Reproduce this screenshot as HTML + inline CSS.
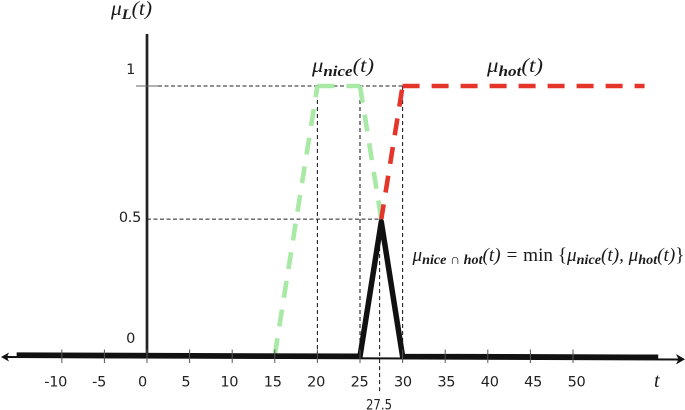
<!DOCTYPE html>
<html>
<head>
<meta charset="utf-8">
<style>
html,body{margin:0;padding:0;background:#fff;width:685px;height:410px;overflow:hidden}
svg{display:block}
.num{font-family:"DejaVu Sans","Liberation Sans",sans-serif;font-size:14.5px;letter-spacing:-0.3px;fill:#222}
.math{font-family:"Liberation Serif",serif;font-style:italic;font-size:20px;fill:#1a1a1a}
.sub{font-size:15px;font-weight:bold}
.up{font-style:normal}
</style>
</head>
<body>
<svg id="chart" width="685" height="410" viewBox="0 0 685 410" xmlns="http://www.w3.org/2000/svg">
<text class="math" x="111" y="15" textLength="41" lengthAdjust="spacingAndGlyphs">μ<tspan class="sub" dy="4">L</tspan><tspan dy="-4">(t)</tspan></text>
<text class="math" x="312" y="72" textLength="62" lengthAdjust="spacingAndGlyphs">μ<tspan class="sub" dy="4">nice</tspan><tspan dy="-4">(t)</tspan></text>
<text class="math" x="487" y="72" textLength="56" lengthAdjust="spacingAndGlyphs">μ<tspan class="sub" dy="4">hot</tspan><tspan dy="-4">(t)</tspan></text>
<text class="math" x="412.5" y="261" style="font-size:19px" textLength="272" lengthAdjust="spacingAndGlyphs">μ<tspan class="sub" style="font-size:14px" dy="3">nice ∩ hot</tspan><tspan dy="-3">(t) = </tspan><tspan class="up">min </tspan><tspan class="up">{</tspan>μ<tspan class="sub" style="font-size:14px" dy="3">nice</tspan><tspan dy="-3">(t), </tspan>μ<tspan class="sub" style="font-size:14px" dy="3">hot</tspan><tspan dy="-3">(t)</tspan><tspan class="up">}</tspan></text>
<text class="math" x="654" y="387">t</text>
<text class="num" x="366" y="409.5" style="font-size:14px;letter-spacing:0" textLength="26" lengthAdjust="spacingAndGlyphs">27.5</text>
</svg>
<script>
const xTicks = [-10, -5, 0, 5, 10, 15, 20, 25, 30, 35, 40, 45, 50];
const yTicks = [0, 0.5, 1];
const niceT = [15, 20, 25, 27.5];
const niceMu = [0, 1, 1, 0.505];
const hotT = [27.5, 30, 58.4];
const hotMu = [0.505, 1, 1];
const minT = [-15.3, 25, 27.5, 30, 60];
const minMu = [0, 0, 0.5, 0, 0];
const guideT = [20, 25, 30];
const guideMidT = 27.3;
const guideMu = 0.505;

const svg = document.getElementById('chart');
const NS = 'http://www.w3.org/2000/svg';
const xScale = t => 147 + 8.52 * t;
const yScale = v => 355 - 269 * v;
const xLabelScale = t => 142.5 + 8.68 * t;
const drift = t => 0.028 * t + 0.6;

function makeLine(x1, y1, x2, y2, color, width, dash) {
  const el = document.createElementNS(NS, 'line');
  el.setAttribute('x1', x1);
  el.setAttribute('y1', y1);
  el.setAttribute('x2', x2);
  el.setAttribute('y2', y2);
  el.setAttribute('stroke', color);
  el.setAttribute('stroke-width', width);
  if (dash) el.setAttribute('stroke-dasharray', dash);
  svg.appendChild(el);
  return el;
}
function makeText(x, y, str, anchor) {
  const el = document.createElementNS(NS, 'text');
  el.setAttribute('x', x);
  el.setAttribute('y', y);
  el.setAttribute('class', 'num');
  el.setAttribute('text-anchor', anchor);
  el.textContent = str;
  svg.appendChild(el);
  return el;
}

// guide lines
guideT.forEach(t => {
  const g = makeLine(xScale(t), yScale(1), xScale(t), yScale(0), '#222', 1.1, '4 3');
  
  
});
const g1 = makeLine(158, yScale(1), xScale(30), yScale(1), '#222', 1, '4 2.5');


const g2 = makeLine(xScale(0), yScale(guideMu), xScale(27.5), yScale(guideMu), '#222', 1, '4 2.5');


const g3 = makeLine(xScale(guideMidT), yScale(guideMu), xScale(guideMidT), 392, '#222', 1.1, '4 3');



// axes
const xAxis = makeLine(6, 357, 680, 359.5, '#111', 2);


const yAxis = makeLine(xScale(0), 34, xScale(0), 355, '#222', 2.7);


const arrowL = document.createElementNS(NS, 'polygon');
arrowL.setAttribute('points', '1,357 9,352.5 7,357 9,361.5');
arrowL.setAttribute('fill', '#111');


svg.appendChild(arrowL);
const arrowR = document.createElementNS(NS, 'polygon');
arrowR.setAttribute('points', '685,359.3 676,354 678.5,359.3 676,364.5');
arrowR.setAttribute('fill', '#111');


svg.appendChild(arrowR);

// series: every segment restarts its dash pattern
function drawDashed(ts, vs, color, name, firstOffset) {
  for (let i = 0; i + 1 < ts.length; i++) {
    const seg = makeLine(xScale(ts[i]), yScale(vs[i]), xScale(ts[i + 1]), yScale(vs[i + 1]), color, 4.6, '17 12');
    if (i === 0 && firstOffset) seg.setAttribute('stroke-dashoffset', firstOffset);
    
    
  }
}
drawDashed(niceT, niceMu, '#a8e9a5', 'nice-series-segment', 0);
drawDashed(hotT, hotMu, '#e5352b', 'hot-series-segment', 2);

const minLine = document.createElementNS(NS, 'polyline');
minLine.setAttribute('points', minT.map((t, i) => xScale(t) + ',' + (yScale(minMu[i]) + drift(t))).join(' '));
minLine.setAttribute('fill', 'none');
minLine.setAttribute('stroke', '#111');
minLine.setAttribute('stroke-width', 5.5);
minLine.setAttribute('stroke-linejoin', 'round');


svg.appendChild(minLine);

// ticks and tick labels
xTicks.forEach(t => {
  const tick = makeLine(xScale(t), 349.5, xScale(t), 363, '#555', 1);
  
  
  const lab = makeText(xLabelScale(t), 386.5, String(t), 'middle');
  
  
});
yTicks.forEach(v => {
  const isMid = v === 0.5;
  const lab = makeText(isMid ? 141 : 135, yScale(v) + (isMid ? 1.5 : -12), String(v), 'end');
  
  
});
const yTick1 = makeLine(136, yScale(1), 158, yScale(1), '#666', 1);


</script>
</body>
</html>
